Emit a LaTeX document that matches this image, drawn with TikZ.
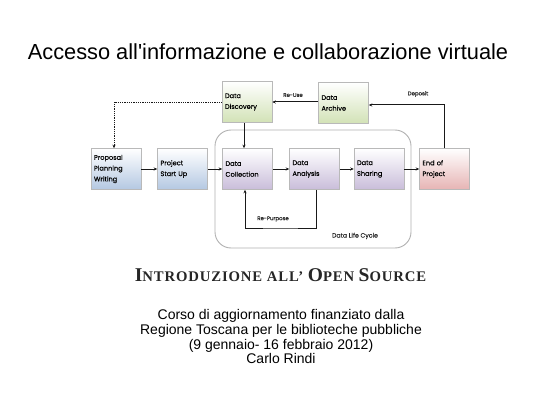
\documentclass[tikz,border=0pt]{standalone}
\usepackage{fontspec}
\setmainfont{Liberation Sans}
\newfontfamily\titlefont{Liberation Sans}[Ligatures=TeXOff]
\newfontfamily\boxfont{Poppins}[FakeBold=0.25]
\newfontfamily\serifb{Liberation Serif}[LetterSpace=6]
\usetikzlibrary{arrows.meta}
\definecolor{cblue}{HTML}{B4C8E2}
\definecolor{cgreen}{HTML}{D2E2B6}
\definecolor{cpurple}{HTML}{C9BDDA}
\definecolor{cred}{HTML}{E6B4B4}
\tikzset{
  boxnode/.style={draw=gray!55, line width=0.5pt, top color=white, text width=44pt, inner xsep=3pt, inner ysep=2pt,
    minimum height=41pt, align=left, font=\boxfont\fontsize{6.6}{10.8}\selectfont, text=black},
  bluebox/.style={boxnode, bottom color=cblue},
  greenbox/.style={boxnode, bottom color=cgreen},
  purplebox/.style={boxnode, bottom color=cpurple},
  redbox/.style={boxnode, bottom color=cred},
  arr/.style={-{Stealth[length=3.5pt,width=3pt]}, line width=1pt, black!90},
  lbl/.style={font=\boxfont\fontsize{5.4}{6}\selectfont, text=black!85, inner sep=0pt},
}
\begin{document}
\begin{tikzpicture}[x=1pt,y=-1pt]
\useasboundingbox (0,0) rectangle (560,420);
\fill[white] (0,0) rectangle (560,420);
\node[font=\titlefont\fontsize{21.8}{24}\selectfont, anchor=base] (title) at (268,60) {Accesso all'informazione e collaborazione virtuale};

\draw[gray!60, line width=0.9pt, rounded corners=16pt] (215,130) rectangle (411,248);

\node[bluebox] (prop) at (116,169) {Proposal\\Planning\\Writing};
\node[bluebox] (start) at (182.5,169) {Project\\Start Up};
\node[purplebox] (coll) at (247.5,169) {Data\\Collection};
\node[purplebox] (anal) at (314.5,169) {Data\\Analysis};
\node[purplebox] (shar) at (379,169) {Data\\Sharing};
\node[redbox] (endp) at (444.5,169) {End of\\Project};
\node[greenbox] (disc) at (247,102) {Data\\Discovery};
\node[greenbox] (arch) at (343.5,103) {Data\\Archive};

\draw[arr] (prop) -- (start);
\draw[arr] (start) -- (coll);
\draw[arr] (coll) -- (anal);
\draw[arr] (anal) -- (shar);
\draw[arr] (shar) -- (endp);
\draw[arr] ([xshift=-3pt]disc.south) -- ([xshift=-3.5pt]coll.north);
\draw[arr] (arch.west |- disc.east) -- (disc.east);
\draw[arr] (endp.north) |- ([yshift=-2pt]arch.east);
\draw[arr, line width=0.9pt, dash pattern=on 0.9pt off 0.9pt] (disc.west) -| ([xshift=-2pt]prop.north);
\coordinate (rp) at (280,228);
\draw[arr] ([xshift=1.5pt]anal.south) |- (rp) -| ([xshift=-2.5pt]coll.south);

\node[lbl] (reuse) at (293,95) {Re-Use};
\node[lbl] (dep) at (418,94) {Deposit};
\node[lbl] (repurp) at (273,219) {Re-Purpose};
\node[lbl, font=\boxfont\fontsize{6.2}{7}\selectfont] (dlc) at (355,236) {Data Life Cycle};

\node[font=\serifb\bfseries, anchor=base, text=black!85] (intro) at (280.5,281)
  {{\fontsize{19.5}{20}\selectfont I}{\fontsize{14.7}{16}\selectfont NTRODUZIONE ALL’ }{\fontsize{19.5}{20}\selectfont O}{\fontsize{14.7}{16}\selectfont PEN }{\fontsize{19.5}{20}\selectfont S}{\fontsize{14.7}{16}\selectfont OURCE}};

\node[font=\fontsize{14}{14.7}\selectfont, align=center, anchor=north] (body) at (281,306)
  {Corso di aggiornamento finanziato dalla\\Regione Toscana per le biblioteche pubbliche\\(9 gennaio- 16 febbraio 2012)\\Carlo Rindi};
\end{tikzpicture}
\end{document}
